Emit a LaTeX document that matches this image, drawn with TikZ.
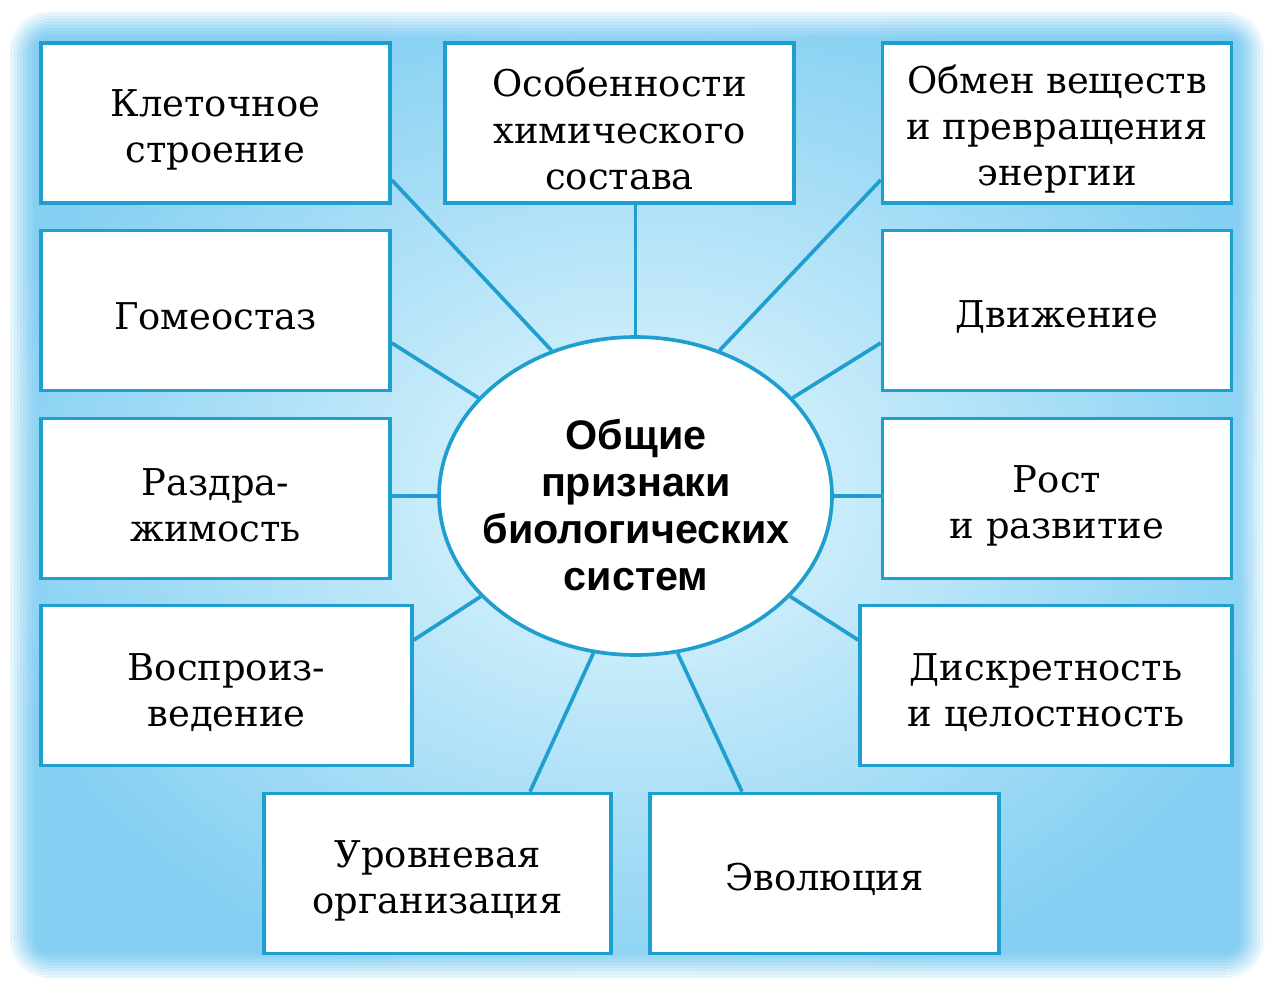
\documentclass[tikz,border=0pt]{standalone}
\usepackage{fontspec}
\setmainfont{DejaVu Serif}
\newfontfamily\hdfont{Liberation Sans}
\usetikzlibrary{shapes.geometric,calc}
\definecolor{edgeblue}{HTML}{1E9FD0}
\definecolor{bgout}{HTML}{84CFF2}
\definecolor{bgin}{HTML}{D0EFFB}
\pgfdeclareradialshading{bgshade}{\pgfpoint{0bp}{0bp}}{color(0bp)=(bgin); color(6bp)=(bgin); color(27bp)=(bgout); color(50bp)=(bgout)}
\begin{document}
\begin{tikzpicture}[x=0.02cm,y=-0.02cm,
  box/.style={draw=edgeblue, line width=2.1pt, fill=white, rectangle,
    minimum height=3.2cm, inner sep=0pt},
  boxtext/.style={align=center, inner sep=0pt, font=\fontsize{21}{26.3}\selectfont},
  conn/.style={draw=edgeblue, line width=2.1pt},
  hub/.style={ellipse, draw=edgeblue, line width=2.1pt, fill=white, inner sep=0pt,
    minimum width=7.86cm, minimum height=6.36cm},
  hubtext/.style={align=center, inner sep=0pt, font=\hdfont\bfseries\fontsize{23.5}{26.8}\selectfont}]
\useasboundingbox (0,0) rectangle (1280,1000);
\fill[white] (0,0) rectangle (1280,1000);
% soft-edged background
\shade[shading=bgshade, rounded corners=22pt] (10,12) rectangle (1264,978);
\foreach \k in {0,...,18} {
  \pgfmathsetmacro\op{0.75*(1-\k/19)^1.6}
  \pgfmathsetmacro\rc{max(22-0.9*\k,3)}
  \draw[white, opacity=\op, line width=1.4pt, rounded corners=\rc pt]
    (10+\k*1.5,12+\k*1.5) rectangle (1264-\k*1.5,978-\k*1.5);
}
% central ellipse
\node[hub] (c) at (635.5,496) {};
\node[hubtext] (ct) at (636,505) {Общие\\признаки\\биологических\\систем};
% boxes
\node[box, minimum width=6.98cm] (b1) at (215.5,123) {};
\node[box, minimum width=6.98cm] (b2) at (619.5,123) {};
\node[box, minimum width=6.98cm] (b3) at (1057,123) {};
\node[box, minimum width=6.98cm] (b4) at (215.5,310.5) {};
\node[box, minimum width=6.98cm] (b5) at (1057,310.5) {};
\node[box, minimum width=6.98cm] (b6) at (215.5,498.5) {};
\node[box, minimum width=6.98cm] (b7) at (1057,498.5) {};
\node[box, minimum width=7.42cm] (b8) at (226.5,685.5) {};
\node[box, minimum width=7.44cm] (b9) at (1046,685.5) {};
\node[box, minimum width=6.94cm] (b10) at (437.5,873.5) {};
\node[box, minimum width=6.98cm] (b11) at (824.5,873.5) {};
% box texts
\node[boxtext] (t1) at ($(b1.center)+(0,7)$) {Клеточное\\строение};
\node[boxtext] (t2) at ($(b2.center)+(0,6)$) {Особенности\\химического\\состава};
\node[boxtext] (t3) at ($(b3.center)+(0,6)$) {Обмен веществ\\и превращения\\энергии};
\node[boxtext] (t4) at ($(b4.center)+(0,6)$) {Гомеостаз};
\node[boxtext] (t5) at ($(b5.center)+(0,6)$) {Движение};
\node[boxtext] (t6) at ($(b6.center)+(0,7)$) {Раздра-\\жимость};
\node[boxtext] (t7) at ($(b7.center)+(0,7)$) {Рост\\и развитие};
\node[boxtext] (t8) at ($(b8.center)+(0,7)$) {Воспроиз-\\ведение};
\node[boxtext] (t9) at ($(b9.center)+(0,7)$) {Дискретность\\и целостность};
\node[boxtext] (t10) at ($(b10.center)+(0,7)$) {Уровневая\\организация};
\node[boxtext] (t11) at ($(b11.center)+(0,6)$) {Эволюция};
% connectors
\draw[conn] (b1.east |- 0,180) -- (c.120);
\draw[conn] (c.north |- b2.south) -- (c.north);
\draw[conn] (b3.west |- 0,180) -- (c.60);
\draw[conn] (b4.east |- 0,343) -- (c.148);
\draw[conn] (b5.west |- 0,343) -- (c.32);
\draw[conn] (c.west -| b6.east) -- (c.west);
\draw[conn] (c.east -| b7.west) -- (c.east);
\draw[conn] (b8.east |- 0,640) -- (c.213);
\draw[conn] (b9.west |- 0,640) -- (c.327);
\draw[conn] (b10.north -| 530,0) -- (c.255);
\draw[conn] (b11.north -| 742,0) -- (c.285);
\end{tikzpicture}
\end{document}
